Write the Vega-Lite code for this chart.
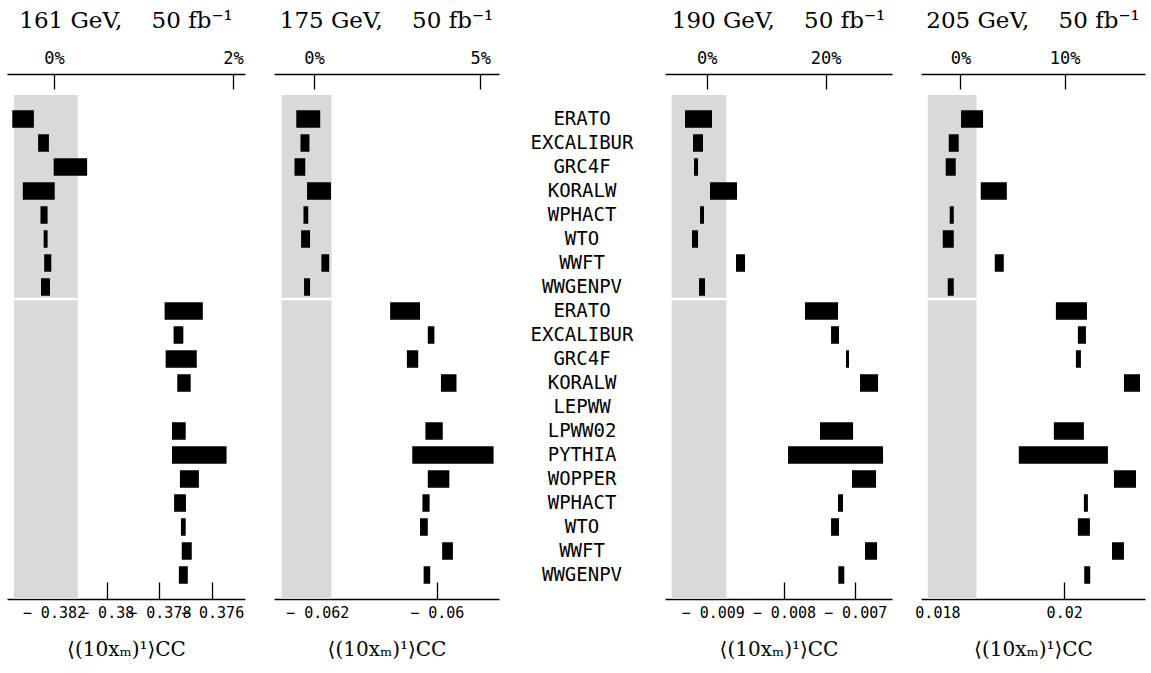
{
  "$schema": "https://vega.github.io/schema/vega-lite/v6.json",
  "background": "white",
  "padding": {"left": 5, "top": 10, "right": 4, "bottom": 5},
  "spacing": 29,
  "bounds": "flush",
  "config": {
    "view": {"stroke": null},
    "axis": {"grid": false, "domainColor": "black", "tickColor": "black", "labelColor": "black", "titleColor": "black", "domainWidth": 1.3, "tickWidth": 1.3},
    "title": {"font": "DejaVu Serif", "fontSize": 23, "fontWeight": "normal", "color": "black", "offset": 16}
  },
  "datasets": {
    "names": [
      {"row": 1, "name": "ERATO"}, {"row": 2, "name": "EXCALIBUR"}, {"row": 3, "name": "GRC4F"}, {"row": 4, "name": "KORALW"},
      {"row": 5, "name": "WPHACT"}, {"row": 6, "name": "WTO"}, {"row": 7, "name": "WWFT"}, {"row": 8, "name": "WWGENPV"},
      {"row": 9, "name": "ERATO"}, {"row": 10, "name": "EXCALIBUR"}, {"row": 11, "name": "GRC4F"}, {"row": 12, "name": "KORALW"},
      {"row": 13, "name": "LEPWW"}, {"row": 14, "name": "LPWW02"}, {"row": 15, "name": "PYTHIA"}, {"row": 16, "name": "WOPPER"},
      {"row": 17, "name": "WPHACT"}, {"row": 18, "name": "WTO"}, {"row": 19, "name": "WWFT"}, {"row": 20, "name": "WWGENPV"}
    ],
    "sep": [{"row": 9}],
    "bars": [
      {"energy": 161, "row": 1, "lo": -0.38358, "hi": -0.38276},
      {"energy": 161, "row": 2, "lo": -0.38260, "hi": -0.38219},
      {"energy": 161, "row": 3, "lo": -0.38201, "hi": -0.38074},
      {"energy": 161, "row": 4, "lo": -0.38318, "hi": -0.38197},
      {"energy": 161, "row": 5, "lo": -0.38251, "hi": -0.38224},
      {"energy": 161, "row": 6, "lo": -0.38239, "hi": -0.38224},
      {"energy": 161, "row": 7, "lo": -0.38237, "hi": -0.38210},
      {"energy": 161, "row": 8, "lo": -0.38249, "hi": -0.38215},
      {"energy": 161, "row": 9, "lo": -0.37780, "hi": -0.37635},
      {"energy": 161, "row": 10, "lo": -0.37746, "hi": -0.37709},
      {"energy": 161, "row": 11, "lo": -0.37776, "hi": -0.37658},
      {"energy": 161, "row": 12, "lo": -0.37732, "hi": -0.37681},
      {"energy": 161, "row": 14, "lo": -0.37752, "hi": -0.37700},
      {"energy": 161, "row": 15, "lo": -0.37752, "hi": -0.37545},
      {"energy": 161, "row": 16, "lo": -0.37722, "hi": -0.37650},
      {"energy": 161, "row": 17, "lo": -0.37744, "hi": -0.37699},
      {"energy": 161, "row": 18, "lo": -0.37718, "hi": -0.37700},
      {"energy": 161, "row": 19, "lo": -0.37715, "hi": -0.37677},
      {"energy": 161, "row": 20, "lo": -0.37726, "hi": -0.37692},
      {"energy": 175, "row": 1, "lo": -0.06235, "hi": -0.06195},
      {"energy": 175, "row": 2, "lo": -0.06228, "hi": -0.06213},
      {"energy": 175, "row": 3, "lo": -0.06238, "hi": -0.06220},
      {"energy": 175, "row": 4, "lo": -0.06217, "hi": -0.06177},
      {"energy": 175, "row": 5, "lo": -0.06223, "hi": -0.06215},
      {"energy": 175, "row": 6, "lo": -0.06227, "hi": -0.06212},
      {"energy": 175, "row": 7, "lo": -0.06193, "hi": -0.06180},
      {"energy": 175, "row": 8, "lo": -0.06222, "hi": -0.06212},
      {"energy": 175, "row": 9, "lo": -0.06078, "hi": -0.06028},
      {"energy": 175, "row": 10, "lo": -0.06015, "hi": -0.06004},
      {"energy": 175, "row": 11, "lo": -0.06050, "hi": -0.06031},
      {"energy": 175, "row": 12, "lo": -0.05993, "hi": -0.05967},
      {"energy": 175, "row": 14, "lo": -0.06019, "hi": -0.05990},
      {"energy": 175, "row": 15, "lo": -0.06041, "hi": -0.05905},
      {"energy": 175, "row": 16, "lo": -0.06015, "hi": -0.05979},
      {"energy": 175, "row": 17, "lo": -0.06024, "hi": -0.06012},
      {"energy": 175, "row": 18, "lo": -0.06028, "hi": -0.06015},
      {"energy": 175, "row": 19, "lo": -0.05991, "hi": -0.05973},
      {"energy": 175, "row": 20, "lo": -0.06022, "hi": -0.06011},
      {"energy": 190, "row": 1, "lo": -0.009389, "hi": -0.009010},
      {"energy": 190, "row": 2, "lo": -0.009277, "hi": -0.009136},
      {"energy": 190, "row": 3, "lo": -0.009263, "hi": -0.009206},
      {"energy": 190, "row": 4, "lo": -0.009038, "hi": -0.008659},
      {"energy": 190, "row": 5, "lo": -0.009178, "hi": -0.009122},
      {"energy": 190, "row": 6, "lo": -0.009291, "hi": -0.009206},
      {"energy": 190, "row": 7, "lo": -0.008673, "hi": -0.008546},
      {"energy": 190, "row": 8, "lo": -0.009192, "hi": -0.009108},
      {"energy": 190, "row": 9, "lo": -0.007704, "hi": -0.007240},
      {"energy": 190, "row": 10, "lo": -0.007338, "hi": -0.007226},
      {"energy": 190, "row": 11, "lo": -0.007128, "hi": -0.007086},
      {"energy": 190, "row": 12, "lo": -0.006931, "hi": -0.006678},
      {"energy": 190, "row": 14, "lo": -0.007493, "hi": -0.007029},
      {"energy": 190, "row": 15, "lo": -0.007942, "hi": -0.006608},
      {"energy": 190, "row": 16, "lo": -0.007044, "hi": -0.006706},
      {"energy": 190, "row": 17, "lo": -0.007240, "hi": -0.007170},
      {"energy": 190, "row": 18, "lo": -0.007338, "hi": -0.007226},
      {"energy": 190, "row": 19, "lo": -0.006861, "hi": -0.006692},
      {"energy": 190, "row": 20, "lo": -0.007236, "hi": -0.007152},
      {"energy": 205, "row": 1, "lo": 0.018373, "hi": 0.018720},
      {"energy": 205, "row": 2, "lo": 0.018179, "hi": 0.018336},
      {"energy": 205, "row": 3, "lo": 0.018131, "hi": 0.018289},
      {"energy": 205, "row": 4, "lo": 0.018684, "hi": 0.019095},
      {"energy": 205, "row": 5, "lo": 0.018194, "hi": 0.018258},
      {"energy": 205, "row": 6, "lo": 0.018084, "hi": 0.018258},
      {"energy": 205, "row": 7, "lo": 0.018905, "hi": 0.019047},
      {"energy": 205, "row": 8, "lo": 0.018163, "hi": 0.018258},
      {"energy": 205, "row": 9, "lo": 0.019869, "hi": 0.020359},
      {"energy": 205, "row": 10, "lo": 0.020216, "hi": 0.020343},
      {"energy": 205, "row": 11, "lo": 0.020185, "hi": 0.020264},
      {"energy": 205, "row": 12, "lo": 0.020943, "hi": 0.021196},
      {"energy": 205, "row": 14, "lo": 0.019837, "hi": 0.020311},
      {"energy": 205, "row": 15, "lo": 0.019284, "hi": 0.020690},
      {"energy": 205, "row": 16, "lo": 0.020785, "hi": 0.021133},
      {"energy": 205, "row": 17, "lo": 0.020311, "hi": 0.020374},
      {"energy": 205, "row": 18, "lo": 0.020216, "hi": 0.020406},
      {"energy": 205, "row": 19, "lo": 0.020754, "hi": 0.020943},
      {"energy": 205, "row": 20, "lo": 0.020316, "hi": 0.020411}
    ]
  },
  "hconcat": [
    {
      "width": 238, "height": 504,
      "title": {"text": "161 GeV,\u00a0\u00a0\u00a0\u00a050 fb\u207b\u00b9"},
      "resolve": {"axis": {"x": "independent"}},
      "layer": [
        {
          "data": {"values": [{"lo": -0.38352, "hi": -0.38109}]},
          "mark": {"type": "rect", "color": "#d9d9d9"},
          "encoding": {
            "x": {"field": "lo", "type": "quantitative", "scale": {"domain": [-0.38378, -0.37475], "nice": false, "zero": false},
              "axis": {"orient": "top", "offset": 21, "values": [-0.382, -0.37521], "labelExpr": "datum.value < -0.378 ? '0%' : '2%'", "tickSize": -15, "labelFont": "DejaVu Sans Mono", "labelFontSize": 17, "labelPadding": 22, "labelFlush": false, "title": null}},
            "x2": {"field": "hi"}
          }
        },
        {
          "data": {"name": "sep"},
          "mark": {"type": "rule", "color": "white", "strokeWidth": 2.5},
          "encoding": {"y": {"field": "row", "type": "ordinal", "bandPosition": 0, "scale": {"type": "band", "domain": [1,2,3,4,5,6,7,8,9,10,11,12,13,14,15,16,17,18,19,20], "paddingInner": 0, "paddingOuter": 0.5}, "axis": null}}
        },
        {
          "data": {"name": "bars"},
          "transform": [{"filter": "datum.energy == 161"}],
          "mark": {"type": "bar", "color": "black", "height": {"band": 0.73}},
          "encoding": {
            "y": {"field": "row", "type": "ordinal", "scale": {"type": "band", "domain": [1,2,3,4,5,6,7,8,9,10,11,12,13,14,15,16,17,18,19,20], "paddingInner": 0, "paddingOuter": 0.5}, "axis": null},
            "x": {"field": "lo", "type": "quantitative", "scale": {"domain": [-0.38378, -0.37475], "nice": false, "zero": false},
              "axis": {"orient": "bottom", "values": [-0.382, -0.38, -0.378, -0.376], "labelExpr": "replace(format(datum.value, '.3~f'), '\u2212', '\u2212 ')", "tickSize": -17, "labelFont": "DejaVu Sans Mono", "labelFontSize": 15, "labelPadding": 23, "labelOverlap": false, "labelFlush": false, "title": "\u27e8(10x\u2098)\u00b9\u27e9CC", "titleFont": "DejaVu Serif", "titleFontSize": 20, "titleFontWeight": "normal", "titlePadding": 19}},
            "x2": {"field": "hi"}
          }
        }
      ]
    },
    {
      "width": 225, "height": 504,
      "title": {"text": "175 GeV,\u00a0\u00a0\u00a0\u00a050 fb\u207b\u00b9"},
      "resolve": {"axis": {"x": "independent"}},
      "layer": [
        {
          "data": {"values": [{"lo": -0.062596, "hi": -0.061761}]},
          "mark": {"type": "rect", "color": "#d9d9d9"},
          "encoding": {
            "x": {"field": "lo", "type": "quantitative", "scale": {"domain": [-0.062723, -0.058959], "nice": false, "zero": false},
              "axis": {"orient": "top", "offset": 21, "values": [-0.062055, -0.059271], "labelExpr": "datum.value < -0.061 ? '0%' : '5%'", "tickSize": -15, "labelFont": "DejaVu Sans Mono", "labelFontSize": 17, "labelPadding": 22, "labelFlush": false, "title": null}},
            "x2": {"field": "hi"}
          }
        },
        {
          "data": {"name": "sep"},
          "mark": {"type": "rule", "color": "white", "strokeWidth": 2.5},
          "encoding": {"y": {"field": "row", "type": "ordinal", "bandPosition": 0, "scale": {"type": "band", "domain": [1,2,3,4,5,6,7,8,9,10,11,12,13,14,15,16,17,18,19,20], "paddingInner": 0, "paddingOuter": 0.5}, "axis": null}}
        },
        {
          "data": {"name": "bars"},
          "transform": [{"filter": "datum.energy == 175"}],
          "mark": {"type": "bar", "color": "black", "height": {"band": 0.73}},
          "encoding": {
            "y": {"field": "row", "type": "ordinal", "scale": {"type": "band", "domain": [1,2,3,4,5,6,7,8,9,10,11,12,13,14,15,16,17,18,19,20], "paddingInner": 0, "paddingOuter": 0.5}, "axis": null},
            "x": {"field": "lo", "type": "quantitative", "scale": {"domain": [-0.062723, -0.058959], "nice": false, "zero": false},
              "axis": {"orient": "bottom", "values": [-0.062, -0.06], "labelExpr": "replace(format(datum.value, '.3~f'), '\u2212', '\u2212 ')", "tickSize": -17, "labelFont": "DejaVu Sans Mono", "labelFontSize": 15, "labelPadding": 23, "labelOverlap": false, "labelFlush": false, "title": "\u27e8(10x\u2098)\u00b9\u27e9CC", "titleFont": "DejaVu Serif", "titleFontSize": 20, "titleFontWeight": "normal", "titlePadding": 19}},
            "x2": {"field": "hi"}
          }
        }
      ]
    },
    {
      "width": 108, "height": 504,
      "data": {"name": "names"},
      "mark": {"type": "text", "font": "DejaVu Sans Mono", "fontSize": 19, "align": "center", "baseline": "middle", "color": "black"},
      "encoding": {
        "y": {"field": "row", "type": "ordinal", "scale": {"type": "band", "domain": [1,2,3,4,5,6,7,8,9,10,11,12,13,14,15,16,17,18,19,20], "paddingInner": 0, "paddingOuter": 0.5}, "axis": null},
        "text": {"field": "name"}
      }
    },
    {
      "width": 227, "height": 504,
      "title": {"text": "190 GeV,\u00a0\u00a0\u00a0\u00a050 fb\u207b\u00b9"},
      "resolve": {"axis": {"x": "independent"}},
      "layer": [
        {
          "data": {"values": [{"lo": -0.009576, "hi": -0.008809}]},
          "mark": {"type": "rect", "color": "#d9d9d9"},
          "encoding": {
            "x": {"field": "lo", "type": "quantitative", "scale": {"domain": [-0.00967, -0.006482], "nice": false, "zero": false},
              "axis": {"orient": "top", "offset": 21, "values": [-0.009084, -0.007413], "labelExpr": "datum.value < -0.008 ? '0%' : '20%'", "tickSize": -15, "labelFont": "DejaVu Sans Mono", "labelFontSize": 17, "labelPadding": 22, "labelFlush": false, "title": null}},
            "x2": {"field": "hi"}
          }
        },
        {
          "data": {"name": "sep"},
          "mark": {"type": "rule", "color": "white", "strokeWidth": 2.5},
          "encoding": {"y": {"field": "row", "type": "ordinal", "bandPosition": 0, "scale": {"type": "band", "domain": [1,2,3,4,5,6,7,8,9,10,11,12,13,14,15,16,17,18,19,20], "paddingInner": 0, "paddingOuter": 0.5}, "axis": null}}
        },
        {
          "data": {"name": "bars"},
          "transform": [{"filter": "datum.energy == 190"}],
          "mark": {"type": "bar", "color": "black", "height": {"band": 0.73}},
          "encoding": {
            "y": {"field": "row", "type": "ordinal", "scale": {"type": "band", "domain": [1,2,3,4,5,6,7,8,9,10,11,12,13,14,15,16,17,18,19,20], "paddingInner": 0, "paddingOuter": 0.5}, "axis": null},
            "x": {"field": "lo", "type": "quantitative", "scale": {"domain": [-0.00967, -0.006482], "nice": false, "zero": false},
              "axis": {"orient": "bottom", "values": [-0.009, -0.008, -0.007], "labelExpr": "replace(format(datum.value, '.3~f'), '\u2212', '\u2212 ')", "tickSize": -17, "labelFont": "DejaVu Sans Mono", "labelFontSize": 15, "labelPadding": 23, "labelOverlap": false, "labelFlush": false, "title": "\u27e8(10x\u2098)\u00b9\u27e9CC", "titleFont": "DejaVu Serif", "titleFontSize": 20, "titleFontWeight": "normal", "titlePadding": 19}},
            "x2": {"field": "hi"}
          }
        }
      ]
    },
    {
      "width": 224, "height": 504,
      "title": {"text": "205 GeV,\u00a0\u00a0\u00a0\u00a050 fb\u207b\u00b9"},
      "resolve": {"axis": {"x": "independent"}},
      "layer": [
        {
          "data": {"values": [{"lo": 0.017847, "hi": 0.018616}]},
          "mark": {"type": "rect", "color": "#d9d9d9"},
          "encoding": {
            "x": {"field": "lo", "type": "quantitative", "scale": {"domain": [0.017741, 0.021275], "nice": false, "zero": false},
              "axis": {"orient": "top", "offset": 21, "values": [0.018363, 0.020006], "labelExpr": "datum.value < 0.019 ? '0%' : '10%'", "tickSize": -15, "labelFont": "DejaVu Sans Mono", "labelFontSize": 17, "labelPadding": 22, "labelFlush": false, "title": null}},
            "x2": {"field": "hi"}
          }
        },
        {
          "data": {"name": "sep"},
          "mark": {"type": "rule", "color": "white", "strokeWidth": 2.5},
          "encoding": {"y": {"field": "row", "type": "ordinal", "bandPosition": 0, "scale": {"type": "band", "domain": [1,2,3,4,5,6,7,8,9,10,11,12,13,14,15,16,17,18,19,20], "paddingInner": 0, "paddingOuter": 0.5}, "axis": null}}
        },
        {
          "data": {"name": "bars"},
          "transform": [{"filter": "datum.energy == 205"}],
          "mark": {"type": "bar", "color": "black", "height": {"band": 0.73}},
          "encoding": {
            "y": {"field": "row", "type": "ordinal", "scale": {"type": "band", "domain": [1,2,3,4,5,6,7,8,9,10,11,12,13,14,15,16,17,18,19,20], "paddingInner": 0, "paddingOuter": 0.5}, "axis": null},
            "x": {"field": "lo", "type": "quantitative", "scale": {"domain": [0.017741, 0.021275], "nice": false, "zero": false},
              "axis": {"orient": "bottom", "values": [0.018, 0.02], "labelExpr": "replace(format(datum.value, '.3~f'), '\u2212', '\u2212 ')", "tickSize": -17, "labelFont": "DejaVu Sans Mono", "labelFontSize": 15, "labelPadding": 23, "labelOverlap": false, "labelFlush": false, "title": "\u27e8(10x\u2098)\u00b9\u27e9CC", "titleFont": "DejaVu Serif", "titleFontSize": 20, "titleFontWeight": "normal", "titlePadding": 19}},
            "x2": {"field": "hi"}
          }
        }
      ]
    }
  ]
}
